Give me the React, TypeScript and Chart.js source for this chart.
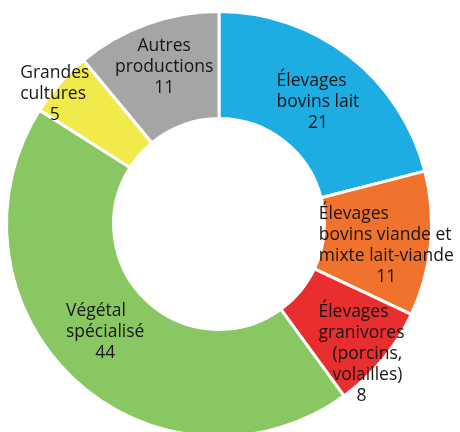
import React, { useEffect, useRef } from "react";
import { Chart, registerables } from "chart.js";

Chart.register(...registerables);

const categories: string[][] = [
  ["Élevages", "bovins lait"],
  ["Élevages", "bovins viande et", "mixte lait-viande"],
  ["Élevages", "granivores", "(porcins,", "volailles)"],
  ["Végétal", "spécialisé"],
  ["Grandes", "cultures"],
  ["Autres", "productions"],
];
const values: number[] = [21, 11, 8, 44, 5, 11];
const colors: string[] = ["#1dade3", "#f1722c", "#e92e2f", "#89c763", "#f0ea4b", "#a5a5a5"];
// label block shift from the middle of its ring segment (px)
const labelShiftX: number[] = [1.5, 9, 20, -5, -45, -1];
const labelShiftY: number[] = [3.6, 6.5, 28.6, -7.4, -25, -7];
const labelLeftAligned: boolean[] = [true, true, true, true, true, false];
// per-line indents (label index -> line indents in px)
const lineIndent: number[][] = [[], [], [0, 0, 14, 14], [], [], []];

const FONT = '17.5px "Open Sans", sans-serif';
const LINE_H = 21;

const labelPlugin = {
  id: "sliceLabels",
  afterDatasetsDraw(chart: any) {
    const ctx = chart.ctx;
    const meta = chart.getDatasetMeta(0);
    ctx.save();
    ctx.font = FONT;
    ctx.fillStyle = "#161616";
    ctx.textBaseline = "middle";
    meta.data.forEach((arc: any, i: number) => {
      const { x, y, startAngle, endAngle, innerRadius, outerRadius } = arc.getProps(
        ["x", "y", "startAngle", "endAngle", "innerRadius", "outerRadius"],
        true
      );
      const mid = (startAngle + endAngle) / 2;
      const r = (innerRadius + outerRadius) / 2;
      const cx = x + Math.cos(mid) * r + labelShiftX[i];
      const cy = y + Math.sin(mid) * r + labelShiftY[i];
      const names = categories[i];
      const n = names.length + 1;
      const top = cy - ((n - 1) * LINE_H) / 2;
      const maxW = Math.max(...names.map((s) => ctx.measureText(s).width));
      names.forEach((ln, k) => {
        if (labelLeftAligned[i]) {
          ctx.textAlign = "left";
          ctx.fillText(ln, cx - maxW / 2 + (lineIndent[i][k] || 0), top + k * LINE_H);
        } else {
          ctx.textAlign = "center";
          ctx.fillText(ln, cx, top + k * LINE_H);
        }
      });
      ctx.textAlign = "center";
      ctx.fillText(String(values[i]), cx, top + names.length * LINE_H);
    });
    ctx.restore();
  },
};

export default function App() {
  const ref = useRef<HTMLCanvasElement>(null);
  useEffect(() => {
    if (!ref.current) return;
    const chart = new Chart(ref.current, {
      type: "doughnut",
      data: {
        labels: categories.map((c) => c.join(" ")),
        datasets: [
          {
            data: values,
            backgroundColor: colors,
            borderColor: "#ffffff",
            borderWidth: 3,
          },
        ],
      },
      options: {
        responsive: false,
        animation: false,
        cutout: "49.6%",
        layout: { padding: { left: 5, top: 10, right: 27, bottom: 2 } },
        plugins: { legend: { display: false }, tooltip: { enabled: false } },
      },
      plugins: [labelPlugin],
    });
    return () => chart.destroy();
  }, []);
  return (
    <div style={{ position: "fixed", left: 0, top: 0, width: 460, height: 432, overflow: "hidden" }}>
      <canvas
        ref={ref}
        width={460}
        height={440}
        style={{ position: "absolute", left: 0, top: 0, width: 460, height: 440 }}
      />
    </div>
  );
}
